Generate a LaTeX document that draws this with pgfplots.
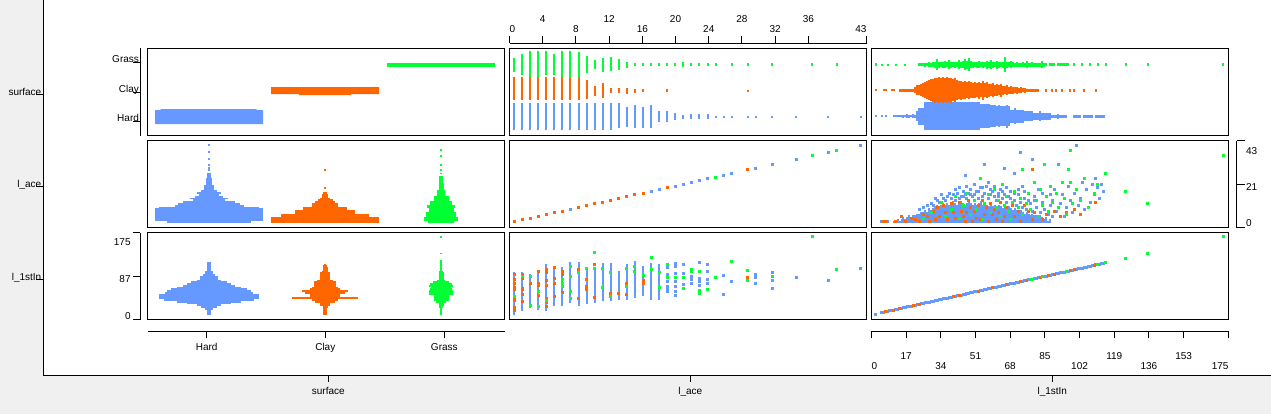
\documentclass[border=0pt]{standalone}
\usepackage{fontspec}
\setmainfont{Liberation Sans}
\usepackage{pgfplots}
\pgfplotsset{compat=1.18}
\definecolor{cB}{RGB}{102,153,255}
\definecolor{cO}{RGB}{255,102,0}
\definecolor{cG}{RGB}{0,255,51}
\definecolor{bgc}{RGB}{240,240,240}
\pgfplotsset{
  panel/.style={scale only axis, width=178.5pt, height=43.5pt, anchor=south west, ticks=none, axis line style={line width=0.5pt}},
  tickax/.style={scale only axis, axis line style={line width=0.5pt,-}, tick style={black, line width=0.5pt}, major tick length=3.5pt, tick label style={font=\fontsize{5pt}{6pt}\selectfont, inner sep=0pt, text=black}},
  vb/.style={draw=none, mark=none, error bars/y dir=both, error bars/y explicit, error bars/error mark=none, error bars/error bar style={line width=1pt, draw=#1, solid}},
  vbp/.style={draw=none, mark=none, error bars/y dir=plus, error bars/y explicit, error bars/error mark=none, error bars/error bar style={line width=1pt, draw=#1, solid}},
  hb/.style={draw=none, mark=none, error bars/x dir=both, error bars/x explicit, error bars/error mark=none, error bars/error bar style={line width=0.9pt, draw=#1, solid}},
  dots/.style={only marks, color=#1, mark=square*, mark size=0.5pt, mark options={fill=#1, draw=#1, line width=0pt}},
}
\begin{document}
\begin{tikzpicture}
\useasboundingbox (0,0) rectangle (635.5pt,207pt);
\fill[bgc] (0,0) rectangle (635.5pt,207pt);
\fill[white] (21.65pt,19.5pt) rectangle (635.5pt,207pt);

% ---------- outer frame ----------
\begin{axis}[tickax, at={(21.65pt,19.5pt)}, anchor=south west, width=613.85pt, height=187.5pt,
  xmin=43.3, xmax=1271, ymin=-375, ymax=0, axis x line*=bottom, axis y line*=left,
  xtick align=outside, ytick align=outside,
  xtick={328.3,690.3,1052.3}, xticklabels={},
  ytick={-94.3,-186.7,-279}, yticklabels={},
  extra x ticks={328.3,690.3,1052.3}, extra x tick labels={surface,l\_ace,l\_1stIn},
  extra x tick style={major tick length=0pt, xticklabel style={anchor=base, yshift=-9.5pt}},
  extra y ticks={-95.3,-187.7,-280}, extra y tick labels={surface,l\_ace,l\_1stIn},
  extra y tick style={major tick length=0pt, yticklabel style={anchor=base east, xshift=-0.8pt}}]
\end{axis}

% ---------- top axis col 2 (l_ace) ----------
\begin{axis}[tickax, at={(254.75pt,185.35pt)}, anchor=north west, width=178.5pt, height=5pt,
  xmin=0, xmax=43, ymin=0, ymax=1, hide y axis, axis x line*=top, xtick align=outside,
  xtick={0,4,8,12,16,20,24,28,32,36,43}, xticklabels={},
  extra x ticks={0,4,8,12,16,20,24,28,32,36,43},
  extra x tick labels={\makebox[0pt][l]{0},\raisebox{5pt}{4},8,\raisebox{5pt}{12},16,\raisebox{5pt}{20},24,\raisebox{5pt}{28},32,\raisebox{5pt}{36},\makebox[0pt][r]{43}},
  extra x tick style={major tick length=0pt, xticklabel style={anchor=base, yshift=5.35pt}}]
\end{axis}

% ---------- bottom axis col 1 (surface) ----------
\begin{axis}[tickax, at={(73.75pt,41.35pt)}, anchor=south west, width=178.5pt, height=5pt,
  xmin=-61.5, xmax=295.5, ymin=0, ymax=1, hide y axis, axis x line*=bottom, xtick align=outside,
  xtick={-2.3,116.3,235.3}, xticklabels={},
  extra x ticks={-2.3,116.3,235.3}, extra x tick labels={Hard,Clay,Grass},
  extra x tick style={major tick length=0pt, xticklabel style={anchor=base, yshift=-9.5pt}}]
\end{axis}

% ---------- bottom axis col 3 (l_1stIn) ----------
\begin{axis}[tickax, at={(435.75pt,41.35pt)}, anchor=south west, width=178.5pt, height=5pt,
  xmin=0, xmax=175, ymin=0, ymax=1, hide y axis, axis x line*=bottom, xtick align=outside,
  xtick={0,17,34,51,68,85,102,119,136,153,175}, xticklabels={},
  extra x ticks={0,17,34,51,68,85,102,119,136,153,175},
  extra x tick labels={\makebox[0pt][l]{0},\raisebox{5pt}{17},34,\raisebox{5pt}{51},68,\raisebox{5pt}{85},102,\raisebox{5pt}{119},136,\raisebox{5pt}{153},\makebox[0pt][r]{175}},
  extra x tick style={major tick length=0pt, xticklabel style={anchor=base, yshift=-19pt}}]
\end{axis}

% ---------- left axis row 1 (surface) ----------
\begin{axis}[tickax, at={(70.15pt,139.25pt)}, anchor=south west, width=5pt, height=43.5pt,
  ymin=-135.5, ymax=-48.5, xmin=0, xmax=1, hide x axis, axis y line*=left, ytick align=outside,
  ytick={-121.7,-92.2,-62.7}, yticklabels={},
  extra y ticks={-121.7,-92.2,-62.7}, extra y tick labels={Hard,Clay,Grass},
  extra y tick style={major tick length=0pt, yticklabel style={anchor=base east, xshift=-0.5pt}}]
\end{axis}

% ---------- left axis row 3 (l_1stIn) ----------
\begin{axis}[tickax, at={(70.15pt,47.25pt)}, anchor=south west, width=5pt, height=43.5pt,
  ymin=0, ymax=1, xmin=0, xmax=1, hide x axis, axis y line*=left, ytick align=outside,
  ytick={0,0.492,1}, yticklabels={},
  extra y ticks={-0.001,0.421,0.846}, extra y tick labels={0,87,175},
  extra y tick style={major tick length=0pt, yticklabel style={anchor=base east, xshift=-4.65pt}}]
\end{axis}

% ---------- right axis row 2 (l_ace) ----------
\begin{axis}[tickax, at={(618.35pt,93.25pt)}, anchor=south east, width=5pt, height=43.5pt,
  ymin=0, ymax=1, xmin=0, xmax=1, hide x axis, axis y line*=right, ytick align=outside, major tick length=4.15pt,
  ytick={0,0.5,1}, yticklabels={},
  extra y ticks={0.007,0.421,0.841}, extra y tick labels={0,21,43},
  extra y tick style={major tick length=0pt, yticklabel style={anchor=base west, xshift=4.5pt}}]
\end{axis}

% ================= ROW 1 : surface =================
\begin{axis}[panel, at={(73.75pt,139.25pt)}, xmin=-61.5, xmax=295.5, ymin=-18.8, ymax=68.2]
\addplot[fill=cB, draw=none] coordinates {(-54,-7.3) (54,-7.3) (54,6.7) (47.7,6.7) (47.7,7.7) (-48.3,7.7) (-48.3,6.7) (-54,6.7)} -- cycle;
\addplot[fill=cO, draw=none] coordinates {(62,29.7) (170,29.7) (170,22.7) (142,22.7) (142,21.7) (90,21.7) (90,22.7) (62,22.7)} -- cycle;
\addplot[fill=cG, draw=none] coordinates {(178,53.7) (286,53.7) (286,49.7) (178,49.7)} -- cycle;
\end{axis}

\begin{axis}[panel, at={(254.75pt,139.25pt)}, xmin=-0.558, xmax=43.72, ymin=-18.8, ymax=68.2]
\addplot[vb=cB] table[row sep=\\, x index=0, y expr=0, y error plus index=1, y error minus index=2] {
0 13.7 13.3\\1 13.7 13.3\\2 13.7 13.3\\3 13.7 13.3\\4 13.7 13.3\\5 13.7 13.3\\6 13.7 13.3\\7 13.7 13.3\\8 13.7 13.3\\9 13.7 13.3\\10 13.7 13.3\\11 13.7 13.3\\12 13.7 13.3\\
13 13.7 11.6\\14 10 10\\15 11.7 11.6\\16 10 11.6\\17 11.7 11.6\\18 5.7 5.6\\19 5.7 5\\20 3.4 3.3\\21 1.7 2.3\\22 2.7 2.3\\23 2.7 2.3\\24 2.7 2.3\\
25 1 1.2\\26 1 1.2\\27 1 1.2\\29 1 1.2\\30 1 1.2\\32 1 1.2\\35 1 1.2\\39 1 1.2\\43 1 1.2\\
};
\addplot[vb=cO] table[row sep=\\, x index=0, y expr=26, y error plus index=1, y error minus index=2] {
0 13.7 9.3\\1 13.7 9.3\\2 13.7 9.3\\3 13.7 9.3\\4 13.7 9.3\\5 13.7 9.3\\6 13.7 9.3\\7 13.7 9.3\\8 13.7 9.3\\
9 10.7 8.6\\10 4.7 5\\11 7.4 7\\12 2.4 2\\13 2.7 2.6\\14 3 3.3\\15 1.7 2\\16 2 1.3\\19 2 1.3\\29 1 1.3\\
};
\addplot[vb=cG] table[row sep=\\, x index=0, y expr=52, y error plus index=1, y error minus index=2] {
0 7 7\\1 10.7 10.3\\2 13.7 12\\3 13.7 12\\4 13.7 10.3\\5 10.7 10.3\\6 13.7 12\\7 13.7 13\\8 12.4 12\\9 8.7 8.6\\10 4.7 4.3\\11 7 7\\12 8 6.3\\13 5.7 5.3\\14 3 3\\
15 2 1.6\\16 2 1.6\\17 2 1.6\\18 2 1.6\\19 2 1.6\\20 2 1.6\\21 3 2\\22 2 1.6\\23 2 1.6\\24 2 1.6\\
25 1.4 1\\27 1.4 1\\29 1.4 1\\32 1.4 1\\37 1.4 1\\40 1.4 1\\
};
\end{axis}

\begin{axis}[panel, at={(435.75pt,139.25pt)}, xmin=-2.116, xmax=177.77, ymin=-18.8, ymax=68.2]
\addplot[vb=cB] table[row sep=\\, x index=0, y expr=0.5, y error index=1] {
0 1\\3 1\\5 1\\9 1.2\\10 1.2\\11 1.2\\12 1.2\\13 1.2\\14 1.5\\15 1.2\\16 2\\17 1.5\\18 1.2\\19 2.2\\20 1.5\\21 5\\22 8.3\\23 8.3\\24 8.3\\
25 13.8\\26 13.8\\27 13.8\\28 13.8\\29 13.8\\30 13.8\\31 13.8\\32 13.8\\33 13.8\\34 13.8\\35 13.8\\36 13.8\\37 13.8\\38 13.8\\39 13.8\\40 13.8\\41 13.8\\42 13.8\\43 13.8\\44 13.8\\45 13.8\\46 13.8\\47 13.8\\48 13.8\\49 13.8\\50 13.8\\51 13.8\\52 13.8\\
53 12\\54 12\\55 12\\56 12\\57 12\\58 11\\59 11\\60 11\\61 10\\62 11\\63 10\\64 10\\65 10\\66 11.5\\67 10\\68 6.7\\69 6.7\\70 8\\71 6.7\\72 6.7\\73 6.7\\74 6.7\\
75 5\\76 5\\77 5\\78 5\\79 5\\80 3.3\\81 3.3\\82 3.3\\83 5\\84 3.3\\85 3.3\\86 3.3\\87 3.3\\88 3.3\\89 1.7\\90 1.7\\91 1.7\\92 2.5\\93 1.7\\94 1.7\\95 1.7\\96 1.7\\
100 1.3\\101 1.3\\102 1.3\\103 1.3\\105 1.3\\106 1.3\\107 1.3\\108 1.3\\109 1.3\\111 1.3\\112 1.3\\113 1.3\\114 1.3\\115 1.3\\
};
\addplot[vb=cO] table[row sep=\\, x index=0, y expr=26.5, y error index=1] {
0 1.2\\4 1.2\\5 1.2\\8 1.2\\9 1.2\\12 1.3\\13 1.3\\14 1.3\\15 1.3\\16 1.3\\17 1.5\\18 1.5\\19 1.5\\20 3\\21 5\\22 5\\23 6\\24 7\\25 8\\26 9\\27 10\\28 11\\29 11.5\\
30 12.5\\31 12\\32 12.8\\33 12\\34 12.8\\35 12\\36 12.8\\37 12\\38 12.5\\39 11\\40 12\\41 10\\42 9\\43 9.5\\44 8.5\\45 9\\46 8\\47 9\\48 8\\49 7.5\\50 8\\
51 7\\52 8.5\\53 7\\54 9.5\\55 7\\56 8\\57 6.5\\58 6\\59 7\\60 5.5\\61 6\\62 5\\63 6.5\\64 4.5\\65 4\\66 5\\67 3.5\\68 4\\69 3.5\\70 3\\71 3.5\\72 2.5\\73 3\\74 2\\75 2.5\\
76 1.5\\77 1.3\\78 1.3\\79 1.3\\80 1.3\\81 1.3\\82 1.3\\86 1.3\\89 1.3\\91 1.3\\94 1.3\\98 1.3\\100 1.3\\105 1.3\\111 1.3\\
};
\addplot[vb=cG] table[row sep=\\, x index=0, y expr=52, y error index=1] {
0 1.2\\3 1\\6 1\\10 1\\15 1\\22 1.8\\23 1.8\\24 1.8\\25 2\\26 1.8\\27 2.2\\28 2\\29 2.5\\30 3\\31 5.5\\32 3\\33 2.5\\34 3\\35 3.5\\36 2.5\\37 4.2\\38 3\\39 2.5\\40 3\\
41 2.5\\42 4.2\\43 3\\44 3.5\\45 5.5\\46 4\\47 6.2\\48 3.5\\49 3\\50 2.5\\51 3\\52 3.3\\53 2.5\\54 3\\55 2.5\\56 3.9\\57 3\\58 4.8\\59 3\\60 2.5\\61 4\\62 3\\63 2.5\\64 3\\65 7.3\\
66 3\\67 2.5\\68 3.3\\69 2.5\\70 2\\71 2.5\\72 2\\73 2\\74 2.5\\75 2\\76 3.8\\77 2\\78 2\\79 2.5\\80 2\\81 2\\82 2\\83 2\\84 3.5\\85 2\\86 1.8\\88 1.8\\89 1.8\\90 1.8\\
92 1.5\\93 1.5\\94 1.5\\95 1.5\\96 1.5\\97 1.5\\100 1.2\\104 1.2\\108 1.2\\112 1.2\\116 1.2\\126 1.2\\137 1.2\\175 1.2\\
};
\end{axis}

% ================= ROW 2 : l_ace =================
\begin{axis}[panel, at={(73.75pt,93.25pt)}, xmin=-61.5, xmax=295.5, ymin=-3.25, ymax=45.52]
\addplot[hb=cB] table[row sep=\\, x expr=0, y index=0, x error index=1] {
0 42\\1 54\\2 54\\3 54\\4 54\\5 54\\6 54\\7 54\\8 50\\9 34.5\\10 31\\11 26\\12 16\\13 19\\14 14\\15 10\\16 11.8\\17 8\\18 5\\19 5\\20 5\\21 3\\22 3\\23 3\\24 3\\
25 1.7\\26 1.7\\27 1.7\\29 1\\30 1\\32 1\\35 1\\39 1\\43 1\\
};
\addplot[hb=cO] table[row sep=\\, x expr=116, y index=0, x error index=1] {
0 54\\1 54\\2 54\\3 44\\4 44\\5 30\\6 30\\7 21.7\\8 21.7\\9 12.8\\10 12.8\\11 10\\12 7.5\\13 5\\14 3.3\\15 3.3\\16 2\\19 1\\29 1\\
};
\addplot[hb=cG] table[row sep=\\, x expr=232, y index=0, x error index=1] {
0 13\\1 16.7\\2 16.7\\3 15\\4 15\\5 15\\6 12.5\\7 12.5\\8 14\\9 14\\10 11\\11 11\\12 7.5\\13 7.5\\14 7.5\\15 4\\16 4\\17 4\\18 2.5\\19 2.5\\20 2.5\\21 2.5\\
22 1.7\\23 1.7\\24 1.7\\25 1.7\\27 1\\29 1\\32 1\\37 1\\40 1\\
};
\end{axis}

\begin{axis}[panel, at={(254.75pt,93.25pt)}, xmin=-0.558, xmax=43.72, ymin=-3.25, ymax=45.52]
\addplot[dots=cO] coordinates {(0,0)(1,1)(2,2)(3,3)(4,4)(5,5)(6,6)(8,8)(9,9)(10,10)(11,11)(12,12)(13,13)(14,14)(15,15)(16,16)(19,19)(29,29)};
\addplot[dots=cB] coordinates {(7,7)(17,17)(18,18)(20,20)(21,21)(22,22)(23,23)(24,24)(26,26)(27,27)(30,30)(32,32)(35,35)(39,39)(43,43)};
\addplot[dots=cG] coordinates {(25,25)(37,37)(40,40)};
\end{axis}

\begin{axis}[panel, at={(435.75pt,93.25pt)}, xmin=-2.116, xmax=177.77, ymin=-3.25, ymax=45.52]
\addplot[vbp=cB] table[row sep=\\, x index=0, y expr=-0.55, y error plus index=1] {
9 1.1\\10 1.1\\11 2.1\\12 1.1\\13 2.1\\14 3.1\\15 2.1\\16 3.1\\17 4.1\\18 3.1\\19 4.1\\20 4.1\\21 5.1\\22 5.1\\23 6.1\\24 6.1\\25 7.1\\26 6.1\\27 8.1\\28 7.1\\29 8.1\\
30 9.1\\31 10.1\\32 9.1\\33 10.1\\34 11.1\\35 10.1\\36 11.1\\37 10.1\\38 11.1\\39 12.1\\40 11.1\\41 10.1\\42 11.1\\43 12.1\\44 11.1\\45 10.1\\46 11.1\\47 12.1\\48 11.1\\49 10.1\\
50 11.1\\51 10.1\\52 11.1\\53 12.1\\54 10.1\\55 11.1\\56 10.1\\57 9.1\\58 10.1\\59 9.1\\60 10.1\\61 9.1\\62 10.1\\63 9.1\\64 8.1\\65 9.1\\66 8.1\\67 9.1\\68 8.1\\69 7.1\\70 8.1\\
71 7.1\\72 6.1\\73 7.1\\74 6.1\\75 5.1\\76 6.1\\77 5.1\\78 4.1\\79 5.1\\80 4.1\\81 4.1\\82 3.1\\83 4.1\\84 3.1\\85 2.1\\86 3.1\\87 1.1\\88 2.1\\
};
\addplot[dots=cB] coordinates {(3,0)(6,0)(22,7)(24,8)(26,9)(28,10)(29,9)(31,12)(32,11)(34,13)(35,12)(36,14)(38,13)(39,15)(40,12)(41,16)(42,13)(43,14)(44,17)(45,26)(45,15)(46,13)(47,16)(48,18)(49,14)(50,15)(51,17)(52,13)(53,19)(54,14)(55,32)(55,16)(56,20)(57,13)(58,15)(59,17)(60,14)(61,12)(62,16)(63,18)(64,13)(65,30)(65,15)(66,11)(67,14)(68,17)(69,10)(70,27)(70,12)(71,9)(72,15)(73,39)(73,11)(74,20)(74,8)(75,13)(76,7)(77,16)(78,10)(79,35)(79,6)(80,12)(81,8)(82,18)(83,5)(84,11)(85,7)(86,14)(87,4)(88,9)(89,3)(89,12)(90,18)(91,6)(92,32)(93,10)(94,15)(95,3)(96,8)(97,20)(98,12)(99,5)(100,16)(101,43)(102,9)(103,13)(104,22)(105,7)(106,18)(108,11)(109,21)(110,15)(111,24)(112,19)(113,13)(114,21)(115,17)
(30,13)(33,15)(37,16)(40,18)(42,19)(44,14)(46,20)(48,15)(50,21)(52,17)(54,19)(57,22)(58,18)(60,20)(62,14)(64,17)(66,19)(68,13)(70,16)(72,18)(75,17)(77,12)(80,14)(84,16)(88,15)};
\addplot[dots=cO] coordinates {(4,0)(5,0)(10,0)(13,3)(15,0)(18,2)(20,1)(22,0)(24,4)(26,3)(27,0)(29,6)(30,1)(31,8)(32,3)(34,9)(35,5)(36,1)(38,10)(39,5)(40,2)(42,11)(43,6)(44,3)(45,0)(46,5)(47,12)(48,8)(49,0)(50,6)(51,2)(52,9)(53,1)(54,12)(55,4)(56,8)(57,0)(58,10)(59,4)(60,7)(61,1)(62,5)(63,11)(64,0)(65,3)(66,8)(68,1)(69,9)(70,3)(72,6)(73,0)(74,4)(75,9)(77,6)(79,29)(79,1)(80,5)(82,3)(84,1)(86,4)(90,6)(93,3)(96,5)(100,7)(103,4)(111,11)};
\addplot[dots=cG] coordinates {(24,2)(28,5)(33,11)(35,3)(38,7)(40,14)(42,2)(44,9)(46,16)(48,4)(50,12)(51,7)(53,24)(54,1)(55,10)(57,15)(58,5)(60,18)(61,8)(62,12)(63,3)(64,21)(65,9)(66,14)(67,6)(68,1)(69,11)(70,17)(72,8)(73,13)(74,29)(74,4)(76,10)(77,16)(78,7)(80,22)(81,12)(82,3)(83,18)(84,9)(85,32)(86,14)(87,6)(88,20)(89,11)(91,16)(92,8)(94,22)(95,13)(96,4)(97,29)(98,40)(98,22)(99,10)(101,18)(103,12)(105,24)(107,8)(110,16)(112,21)(116,27)(126,17)(137,10)(175,37)};
\end{axis}

% ================= ROW 3 : l_1stIn =================
\begin{axis}[panel, at={(73.75pt,47.25pt)}, xmin=-61.5, xmax=295.5, ymin=-12.45, ymax=184.5]
\addplot[hb=cB] table[row sep=\\, x expr=0, y index=0, x error index=1] {
0 2\\4 2\\8 2\\12 4\\16 8\\20 12\\24 22\\28 32\\32 45\\36 50\\40 50\\44 50\\48 44\\52 42\\56 38\\60 32\\64 26\\68 22\\72 18\\76 12\\80 9\\84 9\\88 6\\92 4\\96 4\\100 2\\104 2\\108 2\\112 2\\116 2\\
};
\addplot[hb=cO] table[row sep=\\, x expr=116, y index=0, x error index=1] {
0 1.7\\4 1.7\\8 1.7\\12 1.7\\16 2.5\\20 5\\24 5\\28 10\\32 13\\36 33\\40 15\\44 15\\48 20\\52 23\\56 15\\60 13\\64 11\\68 11\\72 11\\76 8\\80 5\\84 5\\88 5\\92 5\\96 3\\100 2.5\\104 2.5\\108 2\\112 1\\
};
\addplot[hb=cG] table[row sep=\\, x expr=232, y index=0, x error index=1] {
0 1.3\\4 1.3\\8 1.3\\12 1.3\\16 2\\20 2.5\\24 2.5\\28 5\\32 7.5\\36 7.5\\40 7.5\\44 12\\48 12.3\\52 12\\56 11\\60 10\\64 12\\68 11\\72 8\\76 4\\80 2.5\\84 2.5\\88 2.5\\92 2.5\\96 2\\100 1.3\\104 1.3\\108 1.3\\112 1.3\\116 1.3\\120 1.3\\137 1\\175 1\\
};
\end{axis}

\begin{axis}[panel, at={(254.75pt,47.25pt)}, xmin=-0.558, xmax=43.72, ymin=-12.45, ymax=184.5]
\addplot[vbp=cB] table[row sep=\\, x index=0, y index=1, y error plus index=2] {
0 -2.3 96.6\\1 6.7 87.6\\2 14.7 75.6\\3 8.7 91.6\\4 6.7 106.6\\5 17.7 91.6\\6 17.7 87.6\\7 25.7 92.6\\8 17.7 100.6\\9 21.7 81.6\\10 25.7 79.6\\
11 29.7 85.6\\12 29.7 85.6\\13 32.7 65.6\\14 32.7 81.6\\15 36.7 82.6\\16 40.7 68.6\\17 32.7 82.6\\18 32.7 80.6\\
};
\addplot[dots=cB] coordinates {(19,105)(19,90)(19,73)(19,62)(19,56)(19,50)(20,115)(20,107)(20,92)(20,73)(20,62)(20,51)(20,41)(21,111)(21,92)(21,66)(22,85)(22,77)(22,69)(23,116)(23,81)(23,73)(23,64)(24,112)(24,96)(24,77)(24,69)(26,87)(26,45)(27,73)(30,90)(30,82)(30,69)(32,94)(32,75)(32,57)(35,82)(39,75)(43,102)};
\addplot[dots=cO] coordinates {(0,90)(0,78)(0,68)(0,60)(0,56)(0,37)(0,30)(0,15)(0,8)(0,12)(1,90)(1,80)(1,58)(1,45)(1,28)(1,55)(2,20)(2,70)(3,96)(3,70)(3,64)(3,41)(4,100)(4,94)(4,75)(4,65)(4,35)(4,25)(4,18)(5,105)(5,80)(5,70)(5,39)(6,97)(6,90)(6,48)(8,101)(8,34)(9,77)(9,62)(9,55)(10,112)(10,102)(10,38)(12,47)(13,47)(14,68)(14,45)(16,75)(16,70)(29,83)};
\addplot[dots=cG] coordinates {(0,40)(1,85)(2,86)(2,20)(3,50)(3,17)(4,30)(6,77)(6,68)(6,62)(7,107)(7,86)(7,52)(7,35)(8,94)(9,103)(10,103)(11,102)(11,60)(12,94)(12,40)(14,104)(14,62)(15,107)(15,96)(16,88)(17,100)(18,95)(18,60)(19,111)(19,83)(20,83)(21,83)(21,58)(22,101)(22,96)(23,97)(23,54)(23,47)(24,56)(25,83)(27,118)(29,98)(29,75)(32,86)(37,175)(40,100)(10,139)(17,128)};
\end{axis}

\begin{axis}[panel, at={(435.75pt,47.25pt)}, xmin=-2.116, xmax=177.77, ymin=-12.45, ymax=184.5]
\addplot[dots=cB] coordinates {(0,0)(3,3)(4,4)(5,5)(6,6)(7,7)(8,8)(9,9)(10,10)(11,11)(12,12)(13,13)(14,14)(15,15)(16,16)(17,17)(18,18)(19,19)(20,20)(21,21)(22,22)(23,23)(24,24)(25,25)(26,26)(27,27)(28,28)(29,29)(30,30)(31,31)(32,32)(33,33)(34,34)(35,35)(36,36)(37,37)(38,38)(39,39)(40,40)(41,41)(42,42)(43,43)(44,44)(45,45)(46,46)(47,47)(48,48)(49,49)(50,50)(51,51)(52,52)(53,53)(54,54)(55,55)(56,56)(57,57)(58,58)(59,59)(60,60)(61,61)(62,62)(63,63)(64,64)(65,65)(66,66)(67,67)(68,68)(69,69)(70,70)(71,71)(72,72)(73,73)(74,74)(75,75)(76,76)(77,77)(78,78)(79,79)(80,80)(81,81)(82,82)(83,83)(84,84)(85,85)(86,86)(87,87)(88,88)(89,89)(90,90)(91,91)(92,92)(93,93)(94,94)(95,95)(96,96)(97,97)(98,98)(99,99)(100,100)(101,101)(102,102)(103,103)(104,104)(105,105)(106,106)(107,107)(108,108)(109,109)(110,110)(111,111)(112,112)(113,113)(114,114)(115,115)};
\addplot[dots=cO] coordinates {(5,5)(9,9)(12,12)(19,19)(22,22)(39,39)(42,42)(52,52)(59,59)(66,66)(73,73)(76,76)(83,83)(87,87)(90,90)(98,98)(100,100)(110,110)(111,111)};
\addplot[dots=cG] coordinates {(78,78)(79,79)(84,84)(96,96)(112,112)(116,116)(126,126)(137,137)(175,175)};
\end{axis}
\end{tikzpicture}
\end{document}
